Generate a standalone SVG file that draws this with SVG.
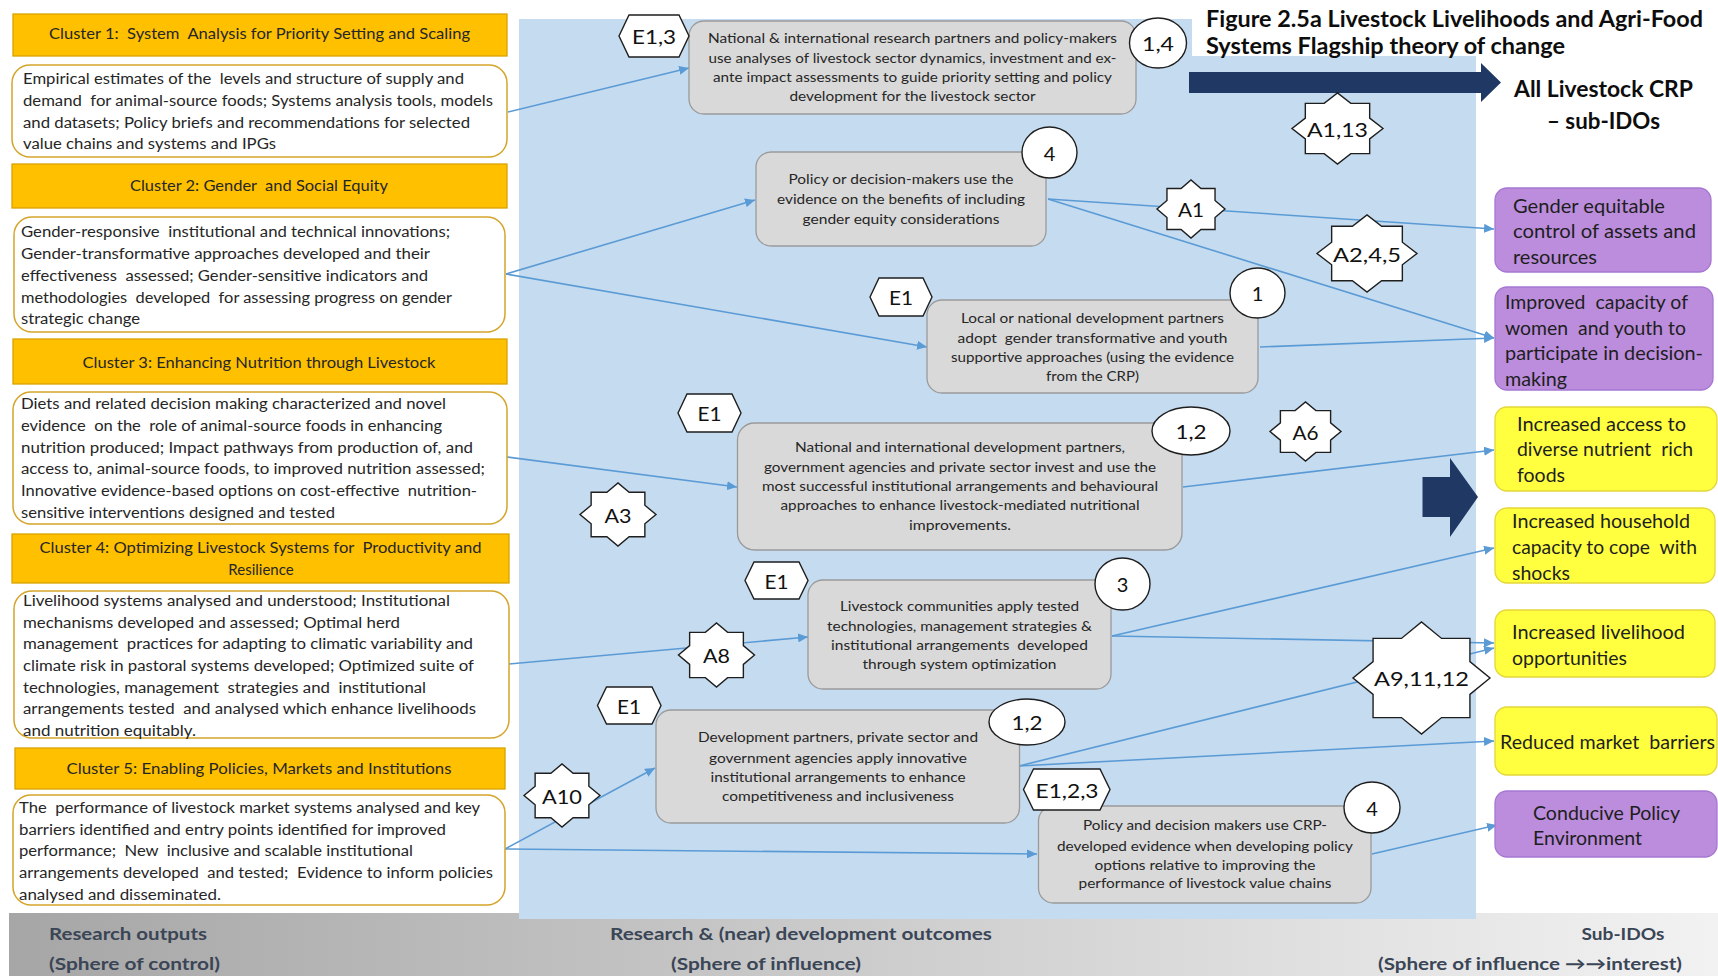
<svg xmlns="http://www.w3.org/2000/svg" xmlns:xlink="http://www.w3.org/1999/xlink" width="1718" height="976" viewBox="0 0 1718 976">
<defs>
<style>
text{font-family:Lato,'Liberation Sans','DejaVu Sans',sans-serif;dominant-baseline:central;fill:#262626;white-space:pre}
.hdr{fill:#ffc000;stroke:#d9a300;stroke-width:1.3}
.out{fill:#fff;stroke:#d4a52a;stroke-width:1.5}
.ct{font-size:15.5px}
.ht{font-size:15px;text-anchor:middle}
.mid{fill:#d9d9d9;stroke:#9a9a9a;stroke-width:1.3}
.mt{font-size:14px;text-anchor:middle}
.shp{fill:#fff;stroke:#1e1e1e;stroke-width:1.4}
.lab{font-size:20px;text-anchor:middle;fill:#111}
.con{stroke:#5b9bd5;stroke-width:1.6;fill:none;marker-end:url(#arr)}
.pur{fill:#bb8ddc;stroke:#a677d2;stroke-width:1.3}
.yel{fill:#ffff40;stroke:#e3d63a;stroke-width:1.3}
.rt{font-size:19px;fill:#1e1e1e}
.big{fill:#1f3864}
.bt{font-size:17px;font-weight:bold;fill:#3a4556}
.tt{font-size:22px;font-weight:bold;fill:#0d0d0d}
</style>
<marker id="arr" markerUnits="userSpaceOnUse" markerWidth="11" markerHeight="9" refX="10" refY="4.5" orient="auto">
<path d="M0,0 L10,4.5 L0,9 z" fill="#5b9bd5"/>
</marker>
<polygon id="star8" vector-effect="non-scaling-stroke" points="1,0 0.7068,0.2928 0.7071,0.7071 0.2928,0.7068 0,1 -0.2928,0.7068 -0.7071,0.7071 -0.7068,0.2928 -1,0 -0.7068,-0.2928 -0.7071,-0.7071 -0.2928,-0.7068 0,-1 0.2928,-0.7068 0.7071,-0.7071 0.7068,-0.2928"/>
<linearGradient id="band" x1="0" y1="0" x2="1" y2="0">
<stop offset="0" stop-color="#a6a6a6"/>
<stop offset="1" stop-color="#f2f2f2"/>
</linearGradient>
</defs>

<rect x="0" y="0" width="1718" height="976" fill="#fff"/>
<rect x="9" y="913" width="1709" height="63" fill="url(#band)"/>
<rect id="panel" x="519" y="19" width="957" height="900" fill="#c5dbf0"/>
<rect x="1192" y="0" width="526" height="56" fill="#fff"/>

<g id="title">
<text class="tt" x="1206" y="18" textLength="497" lengthAdjust="spacingAndGlyphs">Figure 2.5a Livestock Livelihoods and Agri-Food</text>
<text class="tt" x="1206" y="45" textLength="359" lengthAdjust="spacingAndGlyphs">Systems Flagship theory of change</text>
</g>

<g id="big-arrows">
<polygon class="big" points="1189,72 1481,72 1481,63 1501,82.5 1481,102 1481,93 1189,93"/>
<polygon class="big" points="1422.5,477 1450,477 1450,458 1478,497 1450,537 1450,517 1422.5,517"/>
<text class="tt" x="1514" y="88" textLength="179" lengthAdjust="spacingAndGlyphs">All Livestock CRP</text>
<text class="tt" x="1547" y="120" textLength="113" lengthAdjust="spacingAndGlyphs">– sub-IDOs</text>
</g>

<g id="bottom-labels">
<text class="bt" x="49" y="933" textLength="158" lengthAdjust="spacingAndGlyphs">Research outputs</text>
<text class="bt" x="49" y="963" textLength="171" lengthAdjust="spacingAndGlyphs">(Sphere of control)</text>
<text class="bt" x="801" y="933" text-anchor="middle" textLength="382" lengthAdjust="spacingAndGlyphs">Research &amp; (near) development outcomes</text>
<text class="bt" x="766" y="963" text-anchor="middle" textLength="190" lengthAdjust="spacingAndGlyphs">(Sphere of influence)</text>
<text class="bt" x="1623" y="933" text-anchor="middle" textLength="83" lengthAdjust="spacingAndGlyphs">Sub-IDOs</text>
<text class="bt" x="1530" y="963" text-anchor="middle" textLength="304" lengthAdjust="spacingAndGlyphs">(Sphere of influence →→interest)</text>
</g>

<g id="connectors">
<path class="con" d="M508,112 L689,68"/>
<path class="con" d="M506,274 L755,200"/>
<path class="con" d="M506,274 L927,347"/>
<path class="con" d="M1048,199 L1494,229"/>
<path class="con" d="M1048,199 L1494,338"/>
<path class="con" d="M1260,347 L1494,338"/>
<path class="con" d="M507,457 L737,487"/>
<path class="con" d="M1183,487 L1494,450"/>
<path class="con" d="M509,664 L808,637"/>
<path class="con" d="M1112,636 L1494,548"/>
<path class="con" d="M1112,636 L1494,643"/>
<path class="con" d="M1019,766 L1494,648"/>
<path class="con" d="M1019,766 L1494,741"/>
<path class="con" d="M505,849 L655,768"/>
<path class="con" d="M505,849 L1037,854"/>
<path class="con" d="M1372,854 L1497,825"/>
</g>

<g id="cluster1-header">
<rect class="hdr" x="13" y="14" width="494" height="42"/>
<text class="ht" x="259.5" y="33" textLength="421" lengthAdjust="spacingAndGlyphs">Cluster 1:  System  Analysis for Priority Setting and Scaling</text>
</g>
<g id="cluster1-outputs">
<rect class="out" x="12" y="65" width="495" height="92" rx="18"/>
<text class="ct" x="23" y="78" textLength="441" lengthAdjust="spacingAndGlyphs">Empirical estimates of the  levels and structure of supply and</text>
<text class="ct" x="23" y="100" textLength="470" lengthAdjust="spacingAndGlyphs">demand  for animal-source foods; Systems analysis tools, models</text>
<text class="ct" x="23" y="122" textLength="447" lengthAdjust="spacingAndGlyphs">and datasets; Policy briefs and recommendations for selected</text>
<text class="ct" x="23" y="143" textLength="253" lengthAdjust="spacingAndGlyphs">value chains and systems and IPGs</text>
</g>

<g id="cluster2-header">
<rect class="hdr" x="12" y="164" width="495" height="44"/>
<text class="ht" x="259" y="185" textLength="258" lengthAdjust="spacingAndGlyphs">Cluster 2: Gender  and Social Equity</text>
</g>
<g id="cluster2-outputs">
<rect class="out" x="14" y="217" width="491" height="115" rx="18"/>
<text class="ct" x="21" y="231" textLength="429" lengthAdjust="spacingAndGlyphs">Gender-responsive  institutional and technical innovations;</text>
<text class="ct" x="21" y="253" textLength="409" lengthAdjust="spacingAndGlyphs">Gender-transformative approaches developed and their</text>
<text class="ct" x="21" y="275" textLength="407" lengthAdjust="spacingAndGlyphs">effectiveness  assessed; Gender-sensitive indicators and</text>
<text class="ct" x="21" y="297" textLength="431" lengthAdjust="spacingAndGlyphs">methodologies  developed  for assessing progress on gender</text>
<text class="ct" x="21" y="318" textLength="119" lengthAdjust="spacingAndGlyphs">strategic change</text>
</g>

<g id="cluster3-header">
<rect class="hdr" x="13" y="339" width="494" height="45"/>
<text class="ht" x="259" y="362" textLength="353" lengthAdjust="spacingAndGlyphs">Cluster 3: Enhancing Nutrition through Livestock</text>
</g>
<g id="cluster3-outputs">
<rect class="out" x="13" y="392" width="494" height="132" rx="18"/>
<text class="ct" x="21" y="403" textLength="425" lengthAdjust="spacingAndGlyphs">Diets and related decision making characterized and novel</text>
<text class="ct" x="21" y="425" textLength="421" lengthAdjust="spacingAndGlyphs">evidence  on the  role of animal-source foods in enhancing</text>
<text class="ct" x="21" y="447" textLength="452" lengthAdjust="spacingAndGlyphs">nutrition produced; Impact pathways from production of, and</text>
<text class="ct" x="21" y="468" textLength="464" lengthAdjust="spacingAndGlyphs">access to, animal-source foods, to improved nutrition assessed;</text>
<text class="ct" x="21" y="490" textLength="456" lengthAdjust="spacingAndGlyphs">Innovative evidence-based options on cost-effective  nutrition-</text>
<text class="ct" x="21" y="512" textLength="314" lengthAdjust="spacingAndGlyphs">sensitive interventions designed and tested</text>
</g>

<g id="cluster4-header">
<rect class="hdr" x="12" y="534" width="497" height="49"/>
<text class="ht" x="260.5" y="547" textLength="442" lengthAdjust="spacingAndGlyphs">Cluster 4: Optimizing Livestock Systems for  Productivity and</text>
<text class="ht" x="261" y="569">Resilience</text>
</g>
<g id="cluster4-outputs">
<rect class="out" x="14" y="591" width="495" height="147" rx="18"/>
<text class="ct" x="23" y="600" textLength="427" lengthAdjust="spacingAndGlyphs">Livelihood systems analysed and understood; Institutional</text>
<text class="ct" x="23" y="622" textLength="377" lengthAdjust="spacingAndGlyphs">mechanisms developed and assessed; Optimal herd</text>
<text class="ct" x="23" y="643" textLength="450" lengthAdjust="spacingAndGlyphs">management  practices for adapting to climatic variability and</text>
<text class="ct" x="23" y="665" textLength="451" lengthAdjust="spacingAndGlyphs">climate risk in pastoral systems developed; Optimized suite of</text>
<text class="ct" x="23" y="687" textLength="403" lengthAdjust="spacingAndGlyphs">technologies, management  strategies and  institutional</text>
<text class="ct" x="23" y="708" textLength="453" lengthAdjust="spacingAndGlyphs">arrangements tested  and analysed which enhance livelihoods</text>
<text class="ct" x="23" y="730" textLength="173" lengthAdjust="spacingAndGlyphs">and nutrition equitably.</text>
</g>

<g id="cluster5-header">
<rect class="hdr" x="15" y="748" width="490" height="41"/>
<text class="ht" x="259" y="768" textLength="385" lengthAdjust="spacingAndGlyphs">Cluster 5: Enabling Policies, Markets and Institutions</text>
</g>
<g id="cluster5-outputs">
<rect class="out" x="13" y="795" width="492" height="110" rx="18"/>
<text class="ct" x="19" y="807" textLength="461" lengthAdjust="spacingAndGlyphs">The  performance of livestock market systems analysed and key</text>
<text class="ct" x="19" y="829" textLength="427" lengthAdjust="spacingAndGlyphs">barriers identified and entry points identified for improved</text>
<text class="ct" x="19" y="850" textLength="394" lengthAdjust="spacingAndGlyphs">performance;  New  inclusive and scalable institutional</text>
<text class="ct" x="19" y="872" textLength="474" lengthAdjust="spacingAndGlyphs">arrangements developed  and tested;  Evidence to inform policies</text>
<text class="ct" x="19" y="894" textLength="202" lengthAdjust="spacingAndGlyphs">analysed and disseminated.</text>
</g>

<g id="outcome1">
<rect class="mid" x="689" y="21" width="447" height="93" rx="15"/>
<text class="mt" x="912.5" y="37" textLength="409" lengthAdjust="spacingAndGlyphs">National &amp; international research partners and policy-makers</text>
<text class="mt" x="912.5" y="57" textLength="408" lengthAdjust="spacingAndGlyphs">use analyses of livestock sector dynamics, investment and ex-</text>
<text class="mt" x="912.5" y="76" textLength="399" lengthAdjust="spacingAndGlyphs">ante impact assessments to guide priority setting and policy</text>
<text class="mt" x="912.5" y="95.5" textLength="246" lengthAdjust="spacingAndGlyphs">development for the livestock sector</text>
</g>
<g id="outcome1-e">
<polygon class="shp" points="619,36 629,15 679,15 689,36 679,57 629,57"/>
<text class="lab" x="654" y="36" textLength="44" lengthAdjust="spacingAndGlyphs">E1,3</text>
</g>
<g id="outcome1-n">
<ellipse class="shp" cx="1158" cy="43" rx="28.5" ry="25"/>
<text class="lab" x="1158" y="43" textLength="32" lengthAdjust="spacingAndGlyphs">1,4</text>
</g>

<g id="outcome2">
<rect class="mid" x="756" y="152" width="290" height="94" rx="15"/>
<text class="mt" x="901" y="178" textLength="225" lengthAdjust="spacingAndGlyphs">Policy or decision-makers use the</text>
<text class="mt" x="901" y="198" textLength="248" lengthAdjust="spacingAndGlyphs">evidence on the benefits of including</text>
<text class="mt" x="901" y="218" textLength="197" lengthAdjust="spacingAndGlyphs">gender equity considerations</text>
</g>
<g id="outcome2-n">
<ellipse class="shp" cx="1049.5" cy="152.5" rx="27.5" ry="25.5"/>
<text class="lab" x="1049.5" y="152.5">4</text>
</g>

<g id="outcome3">
<rect class="mid" x="927" y="300" width="331" height="93" rx="15"/>
<text class="mt" x="1092.5" y="317" textLength="263" lengthAdjust="spacingAndGlyphs">Local or national development partners</text>
<text class="mt" x="1092.5" y="337" textLength="270" lengthAdjust="spacingAndGlyphs">adopt  gender transformative and youth</text>
<text class="mt" x="1092.5" y="356" textLength="283" lengthAdjust="spacingAndGlyphs">supportive approaches (using the evidence</text>
<text class="mt" x="1092.5" y="375.5" textLength="93" lengthAdjust="spacingAndGlyphs">from the CRP)</text>
</g>
<g id="outcome3-e">
<polygon class="shp" points="870,297 879,278 923,278 932,297 923,316 879,316"/>
<text class="lab" x="901" y="297" textLength="24" lengthAdjust="spacingAndGlyphs">E1</text>
</g>
<g id="outcome3-n">
<ellipse class="shp" cx="1257.5" cy="293" rx="27.5" ry="25"/>
<text class="lab" x="1257.5" y="293">1</text>
</g>

<g id="outcome4">
<rect class="mid" x="737.5" y="423" width="444.5" height="127" rx="17"/>
<text class="mt" x="960" y="446" textLength="330" lengthAdjust="spacingAndGlyphs">National and international development partners,</text>
<text class="mt" x="960" y="466" textLength="392" lengthAdjust="spacingAndGlyphs">government agencies and private sector invest and use the</text>
<text class="mt" x="960" y="485" textLength="396" lengthAdjust="spacingAndGlyphs">most successful institutional arrangements and behavioural</text>
<text class="mt" x="960" y="504" textLength="359" lengthAdjust="spacingAndGlyphs">approaches to enhance livestock-mediated nutritional</text>
<text class="mt" x="960" y="524.5" textLength="102" lengthAdjust="spacingAndGlyphs">improvements.</text>
</g>
<g id="outcome4-e">
<polygon class="shp" points="678,413 687,394 732,394 741,413 732,432 687,432"/>
<text class="lab" x="709.5" y="413" textLength="24" lengthAdjust="spacingAndGlyphs">E1</text>
</g>
<g id="outcome4-n">
<ellipse class="shp" cx="1191" cy="431" rx="39" ry="24"/>
<text class="lab" x="1191" y="431" textLength="31" lengthAdjust="spacingAndGlyphs">1,2</text>
</g>

<g id="outcome5">
<rect class="mid" x="808" y="580" width="303" height="109" rx="15"/>
<text class="mt" x="959.5" y="605" textLength="239" lengthAdjust="spacingAndGlyphs">Livestock communities apply tested</text>
<text class="mt" x="959.5" y="625" textLength="265" lengthAdjust="spacingAndGlyphs">technologies, management strategies &amp;</text>
<text class="mt" x="959.5" y="644" textLength="257" lengthAdjust="spacingAndGlyphs">institutional arrangements  developed</text>
<text class="mt" x="959.5" y="663" textLength="194" lengthAdjust="spacingAndGlyphs">through system optimization</text>
</g>
<g id="outcome5-e">
<polygon class="shp" points="745,580.5 754,562 799,562 808,580.5 799,599 754,599"/>
<text class="lab" x="776.5" y="580.5" textLength="24" lengthAdjust="spacingAndGlyphs">E1</text>
</g>
<g id="outcome5-n">
<ellipse class="shp" cx="1122.5" cy="584" rx="27.5" ry="26"/>
<text class="lab" x="1122.5" y="584">3</text>
</g>

<g id="outcome6">
<rect class="mid" x="656" y="710" width="363.5" height="113" rx="15"/>
<text class="mt" x="838" y="736" textLength="280" lengthAdjust="spacingAndGlyphs">Development partners, private sector and</text>
<text class="mt" x="838" y="757" textLength="258" lengthAdjust="spacingAndGlyphs">government agencies apply innovative</text>
<text class="mt" x="838" y="776" textLength="255" lengthAdjust="spacingAndGlyphs">institutional arrangements to enhance</text>
<text class="mt" x="838" y="795" textLength="232" lengthAdjust="spacingAndGlyphs">competitiveness and inclusiveness</text>
</g>
<g id="outcome6-e">
<polygon class="shp" points="597.5,705.5 606.5,687 652,687 661,705.5 652,724 606.5,724"/>
<text class="lab" x="629" y="705.5" textLength="24" lengthAdjust="spacingAndGlyphs">E1</text>
</g>
<g id="outcome6-n">
<ellipse class="shp" cx="1027" cy="722" rx="38" ry="23"/>
<text class="lab" x="1027" y="722" textLength="31" lengthAdjust="spacingAndGlyphs">1,2</text>
</g>

<g id="outcome7">
<rect class="mid" x="1038.5" y="806" width="332.5" height="97" rx="15"/>
<text class="mt" x="1205" y="824" textLength="244" lengthAdjust="spacingAndGlyphs">Policy and decision makers use CRP-</text>
<text class="mt" x="1205" y="845" textLength="296" lengthAdjust="spacingAndGlyphs">developed evidence when developing policy</text>
<text class="mt" x="1205" y="864" textLength="221" lengthAdjust="spacingAndGlyphs">options relative to improving the</text>
<text class="mt" x="1205" y="882" textLength="253" lengthAdjust="spacingAndGlyphs">performance of livestock value chains</text>
</g>
<g id="outcome7-e">
<polygon class="shp" points="1023.5,789.5 1033.5,769 1100,769 1110,789.5 1100,810 1033.5,810"/>
<text class="lab" x="1067" y="789.5" textLength="63" lengthAdjust="spacingAndGlyphs">E1,2,3</text>
</g>
<g id="outcome7-n">
<ellipse class="shp" cx="1372" cy="807.5" rx="28" ry="25.5"/>
<text class="lab" x="1372" y="807.5">4</text>
</g>

<g id="star-A1-13">
<use xlink:href="#star8" href="#star8" class="shp" transform="translate(1337.5,128.5) scale(45.5,35.5)"/>
<text class="lab" x="1337.5" y="128.5" textLength="61" lengthAdjust="spacingAndGlyphs">A1,13</text>
</g>
<g id="star-A1">
<use xlink:href="#star8" href="#star8" class="shp" transform="translate(1191,209) scale(34,29)"/>
<text class="lab" x="1191" y="209" textLength="26" lengthAdjust="spacingAndGlyphs">A1</text>
</g>
<g id="star-A2-4-5">
<use xlink:href="#star8" href="#star8" class="shp" transform="translate(1367,253.5) scale(50,38.5)"/>
<text class="lab" x="1367" y="253.5" textLength="68" lengthAdjust="spacingAndGlyphs">A2,4,5</text>
</g>
<g id="star-A6">
<use xlink:href="#star8" href="#star8" class="shp" transform="translate(1305.5,431.5) scale(35.5,29.5)"/>
<text class="lab" x="1305.5" y="431.5" textLength="26" lengthAdjust="spacingAndGlyphs">A6</text>
</g>
<g id="star-A3">
<use xlink:href="#star8" href="#star8" class="shp" transform="translate(618,514.5) scale(38,31.5)"/>
<text class="lab" x="618" y="514.5" textLength="27" lengthAdjust="spacingAndGlyphs">A3</text>
</g>
<g id="star-A8">
<use xlink:href="#star8" href="#star8" class="shp" transform="translate(716.5,655) scale(38,32)"/>
<text class="lab" x="716.5" y="655" textLength="27" lengthAdjust="spacingAndGlyphs">A8</text>
</g>
<g id="star-A9-11-12">
<use xlink:href="#star8" href="#star8" class="shp" transform="translate(1421.5,678) scale(68.5,56)"/>
<text class="lab" x="1421.5" y="678" textLength="95" lengthAdjust="spacingAndGlyphs">A9,11,12</text>
</g>
<g id="star-A10">
<use xlink:href="#star8" href="#star8" class="shp" transform="translate(562,795.5) scale(38,31.5)"/>
<text class="lab" x="562" y="795.5" textLength="40" lengthAdjust="spacingAndGlyphs">A10</text>
</g>

<g id="ido-gender">
<rect class="pur" x="1495" y="188" width="216" height="84" rx="12"/>
<text class="rt" x="1513" y="205" textLength="152" lengthAdjust="spacingAndGlyphs">Gender equitable</text>
<text class="rt" x="1513" y="230" textLength="183" lengthAdjust="spacingAndGlyphs">control of assets and</text>
<text class="rt" x="1513" y="256" textLength="84" lengthAdjust="spacingAndGlyphs">resources</text>
</g>
<g id="ido-capacity">
<rect class="pur" x="1495" y="287" width="218" height="103" rx="12"/>
<text class="rt" x="1505" y="301" textLength="183" lengthAdjust="spacingAndGlyphs">Improved  capacity of</text>
<text class="rt" x="1505" y="327" textLength="181" lengthAdjust="spacingAndGlyphs">women  and youth to</text>
<text class="rt" x="1505" y="352" textLength="198" lengthAdjust="spacingAndGlyphs">participate in decision-</text>
<text class="rt" x="1505" y="378" textLength="62" lengthAdjust="spacingAndGlyphs">making</text>
</g>
<g id="ido-access">
<rect class="yel" x="1495" y="407" width="222" height="84" rx="12"/>
<text class="rt" x="1517" y="423" textLength="169" lengthAdjust="spacingAndGlyphs">Increased access to</text>
<text class="rt" x="1517" y="448" textLength="176" lengthAdjust="spacingAndGlyphs">diverse nutrient  rich</text>
<text class="rt" x="1517" y="474" textLength="48" lengthAdjust="spacingAndGlyphs">foods</text>
</g>
<g id="ido-household">
<rect class="yel" x="1495" y="508" width="220" height="75" rx="12"/>
<text class="rt" x="1512" y="520" textLength="178" lengthAdjust="spacingAndGlyphs">Increased household</text>
<text class="rt" x="1512" y="546" textLength="185" lengthAdjust="spacingAndGlyphs">capacity to cope  with</text>
<text class="rt" x="1512" y="572" textLength="58" lengthAdjust="spacingAndGlyphs">shocks</text>
</g>
<g id="ido-livelihood">
<rect class="yel" x="1495" y="610" width="220" height="67" rx="12"/>
<text class="rt" x="1512" y="631" textLength="173" lengthAdjust="spacingAndGlyphs">Increased livelihood</text>
<text class="rt" x="1512" y="657" textLength="115" lengthAdjust="spacingAndGlyphs">opportunities</text>
</g>
<g id="ido-market">
<rect class="yel" x="1495" y="707" width="222" height="68" rx="12"/>
<text class="rt" x="1500" y="741" textLength="215" lengthAdjust="spacingAndGlyphs">Reduced market  barriers</text>
</g>
<g id="ido-policy">
<rect class="pur" x="1495" y="791" width="222" height="66" rx="12"/>
<text class="rt" x="1533" y="812" textLength="147" lengthAdjust="spacingAndGlyphs">Conducive Policy</text>
<text class="rt" x="1533" y="837" textLength="109" lengthAdjust="spacingAndGlyphs">Environment</text>
</g>
</svg>
